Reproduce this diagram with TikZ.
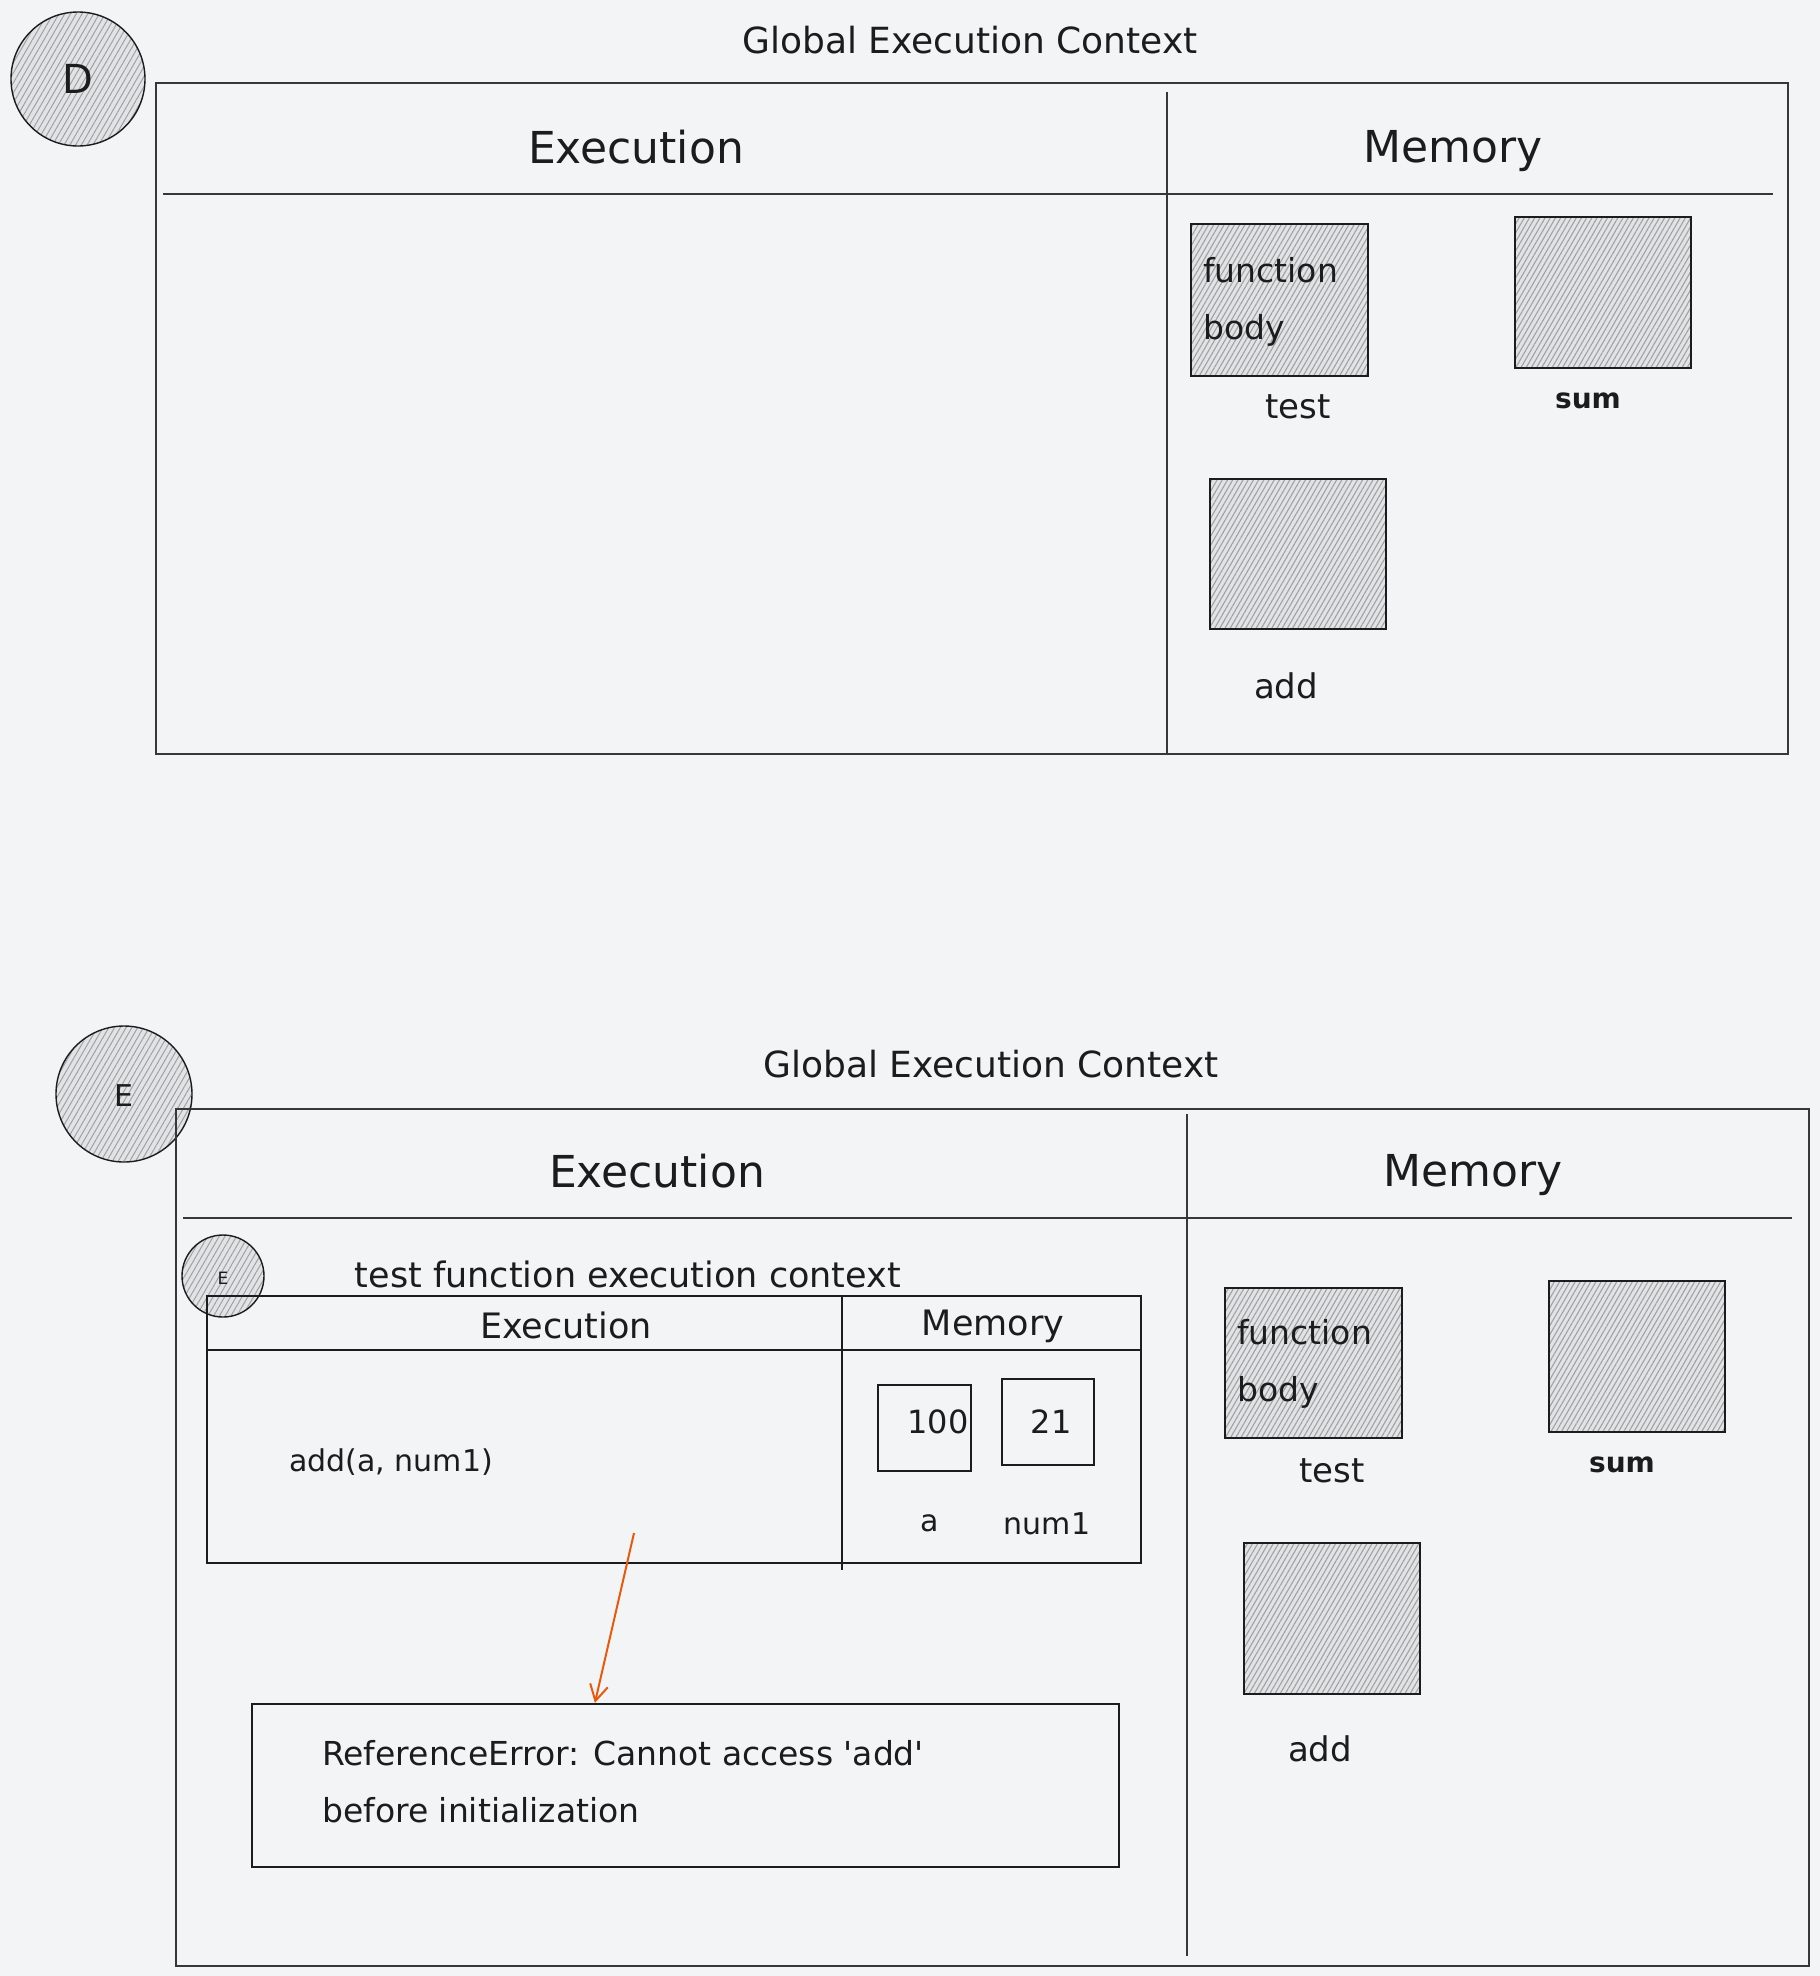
\documentclass[tikz,border=0pt]{standalone}
\usepackage{fontspec}
\setmainfont{DejaVu Sans}[Ligatures=TeXOff]
\usetikzlibrary{patterns.meta,arrows.meta}
\definecolor{bg}{RGB}{243,244,246}
\definecolor{ink}{RGB}{28,28,28}
\definecolor{framec}{RGB}{55,55,58}
\definecolor{hatch}{RGB}{160,161,164}
\definecolor{hatchbg}{RGB}{226,227,229}
\definecolor{arrowc}{RGB}{232,89,12}
\newcommand{\fs}[1]{\fontsize{#1}{#1}\selectfont}
\tikzset{
  txt/.style={inner sep=0pt, text=ink},
  hatchbox/.style={rectangle, draw=ink, line width=1.8pt, preaction={fill=hatchbg},
    pattern={Lines[angle=60,distance=4.5pt,line width=1.1pt]}, pattern color=hatch, inner sep=0pt},
  hatchcirc/.style={circle, draw=ink, line width=1.4pt, preaction={fill=hatchbg},
    pattern={Lines[angle=60,distance=5pt,line width=1pt]}, pattern color=hatch, inner sep=0pt},
  framebox/.style={rectangle, draw=framec, line width=1.4pt, inner sep=0pt},
  innerbox/.style={rectangle, draw=ink, line width=2.8pt, inner sep=0pt},
  valbox/.style={rectangle, draw=ink, line width=2.4pt, inner sep=0pt},
  divider/.style={draw=framec, line width=1.4pt},
  innerdiv/.style={draw=ink, line width=2.8pt},
  arr/.style={draw=arrowc, line width=2pt, -{Straight Barb[length=16pt,width=18pt,line width=2pt]}},
}
\begin{document}
\begin{tikzpicture}[x=1pt,y=-1pt]
\useasboundingbox[fill=bg] (0,0) rectangle (1820,1976);

% ================= Top: D =================
\node[hatchcirc, minimum size=134pt] (circD) at (78,79) {};
\node[txt, font=\fs{40}] (circDlbl) at (78,79) {D};
\node[txt, font=\fs{36}] (title1) at (970,40) {Global Execution Context};

\node[framebox, minimum width=1632pt, minimum height=671pt] (frame1) at (972,418.5) {};
\draw[divider] (163,194) -- (1773,194);
\draw[divider] (1167,92) -- (1167,754);
\node[txt, font=\fs{44}] (exec1) at (636,147) {Execution};
\node[txt, font=\fs{44}] (mem1) at (1453,151) {Memory};

\node[hatchbox, minimum width=177pt, minimum height=152pt] (test1) at (1279.5,300) {};
\node[txt, font=\fontsize{33}{57}\selectfont, align=left, anchor=west] (test1txt) at (1203,302) {function\\body};
\node[txt, font=\fs{34}] (test1lbl) at (1298,407) {test};

\node[hatchbox, minimum width=176pt, minimum height=151pt] (sum1) at (1603,292.5) {};
\node[txt, font=\bfseries\fs{28}] (sum1lbl) at (1588,401) {sum};

\node[hatchbox, minimum width=176pt, minimum height=150pt] (add1) at (1298,554) {};
\node[txt, font=\fs{34}] (add1lbl) at (1286,686) {add};

% ================= Bottom: E =================
\node[hatchcirc, minimum size=136pt] (circE) at (124,1094) {};
\node[txt, font=\fs{30}] (circElbl) at (124,1096) {E};
\node[txt, font=\fs{36}] (title2) at (991,1064) {Global Execution Context};

\node[framebox, minimum width=1633pt, minimum height=857pt] (frame2) at (992.5,1537.5) {};
\draw[divider] (183,1218) -- (1792,1218);
\draw[divider] (1187,1114) -- (1187,1956);
\node[txt, font=\fs{44}] (exec2) at (657,1171) {Execution};
\node[txt, font=\fs{44}] (mem2) at (1473,1175) {Memory};

% inner function execution context
\node[hatchcirc, minimum size=82pt] (circEs) at (223,1276) {};
\node[txt, font=\fs{17}] (circEslbl) at (223,1278) {E};
\node[txt, font=\fs{35}] (fectitle) at (628,1274) {test function execution context};
\node[innerbox, minimum width=934pt, minimum height=267pt] (fec) at (674,1429.5) {};
\draw[innerdiv] (207,1350) -- (1141,1350);
\draw[innerdiv] (842,1296) -- (842,1570);
\node[txt, font=\fs{35}] (exec3) at (566,1325) {Execution};
\node[txt, font=\fs{35}] (mem3) at (993,1326) {Memory};
\node[txt, font=\fs{30}] (call) at (391,1462) {add(a, num1)};

\node[valbox, minimum width=93pt, minimum height=86pt] (box100) at (924.5,1428) {};
\node[txt, font=\fs{32}] (v100) at (938,1422) {100};
\node[valbox, minimum width=92pt, minimum height=86pt] (box21) at (1048,1422) {};
\node[txt, font=\fs{32}] (v21) at (1051,1422) {21};
\node[txt, font=\fs{30}] (lbla) at (930,1523) {a};
\node[txt, font=\fs{30}] (lblnum) at (1047,1524) {num1};

% error box
\node[innerbox, line width=2.2pt, minimum width=867pt, minimum height=163pt] (err) at (685.5,1785.5) {};
\node[txt, font=\fontsize{33}{57}\selectfont, align=left, anchor=west] (errtxt) at (322,1782) {ReferenceError: Cannot access 'add'\\before initialization};
\coordinate (arrS) at (634,1533);
\draw[arr] (arrS) -- ([xshift=344pt]err.north west);

% memory of global (bottom)
\node[hatchbox, minimum width=177pt, minimum height=150pt] (test2) at (1313.5,1363) {};
\node[txt, font=\fontsize{33}{57}\selectfont, align=left, anchor=west] (test2txt) at (1237,1364) {function\\body};
\node[txt, font=\fs{34}] (test2lbl) at (1332,1471) {test};

\node[hatchbox, minimum width=176pt, minimum height=151pt] (sum2) at (1637,1356.5) {};
\node[txt, font=\bfseries\fs{28}] (sum2lbl) at (1622,1465) {sum};

\node[hatchbox, minimum width=176pt, minimum height=151pt] (add2) at (1332,1618.5) {};
\node[txt, font=\fs{34}] (add2lbl) at (1320,1749) {add};
\end{tikzpicture}
\end{document}
